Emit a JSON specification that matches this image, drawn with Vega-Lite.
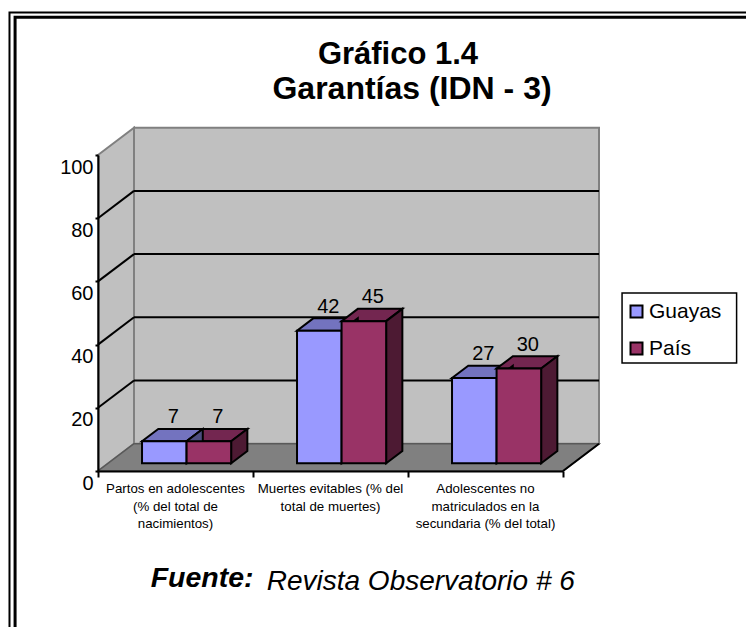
{
"$schema":"https://vega.github.io/schema/vega-lite/v6.json",
"width":465,"height":316,
"autosize":{"type":"none"},
"padding":{"left":98,"top":155,"right":183,"bottom":156},
"background":"white",
"title":{"text":"Gráfico 1.4","anchor":"middle","frame":"group","dx":67.5,"offset":-84,"baseline":"alphabetic","font":"Liberation Sans","fontSize":31,"fontWeight":"bold","color":"black"},
"config":{"view":{"stroke":null},"font":"Liberation Sans"},
"datasets":{
"barras":[
{"categoria":"Partos en adolescentes","orden":0,"serie":"Guayas","valor":7},
{"categoria":"Partos en adolescentes","orden":0,"serie":"País","valor":7},
{"categoria":"Muertes evitables","orden":1,"serie":"Guayas","valor":42},
{"categoria":"Muertes evitables","orden":1,"serie":"País","valor":45},
{"categoria":"Adolescentes no matriculados","orden":2,"serie":"Guayas","valor":27},
{"categoria":"Adolescentes no matriculados","orden":2,"serie":"País","valor":30}],
"niveles":[{"nivel":20},{"nivel":40},{"nivel":60},{"nivel":80}],
"profundidad":[{"z":0},{"z":1}],
"etiquetas":[
{"orden":0,"texto":"Partos en adolescentes\n(% del total de\nnacimientos)"},
{"orden":1,"texto":"Muertes evitables (% del\ntotal de muertes)"},
{"orden":2,"texto":"Adolescentes no\nmatriculados en la\nsecundaria (% del total)"}]
},
"layer":[
{"data":{"values":[{}]},"mark":{"type":"rect","fill":null,"stroke":"black","strokeWidth":2},
 "encoding":{"x":{"datum":-0.571,"type":"quantitative","scale":{"domain":[0,3],"nice":false,"zero":false},"axis":{"values":[0,1,2,3],"labels":false,"title":null,"grid":false,"domainColor":"black","domainWidth":2,"tickColor":"black","tickWidth":2,"tickSize":6,"zindex":1}},
  "x2":{"datum":4.4},
  "y":{"datum":145.1,"type":"quantitative","scale":{"domain":[0,100],"nice":false,"zero":false},"axis":{"values":[0,20,40,60,80,100],"title":null,"grid":false,"domainColor":"black","domainWidth":2,"tickColor":"black","tickWidth":2,"tickSize":3,"labelFont":"Liberation Sans","labelFontSize":20,"labelColor":"black","labelPadding":2,"labelOffset":12,"zindex":1}},
  "y2":{"datum":-60}}},
{"data":{"values":[{}]},"mark":{"type":"rect","fill":null,"stroke":"black","strokeWidth":3},
 "encoding":{"x":{"datum":-0.535,"type":"quantitative"},"x2":{"datum":4.4},"y":{"datum":143.6,"type":"quantitative"},"y2":{"datum":-60}}},
{"data":{"values":[{}]},"mark":{"type":"text","font":"Liberation Sans","fontSize":32,"fontWeight":"bold","align":"center","baseline":"alphabetic","color":"black"},
 "encoding":{"x":{"datum":2.026,"type":"quantitative"},"y":{"datum":117.6,"type":"quantitative"},"text":{"value":"Garantías (IDN - 3)"}}},
{"data":{"name":"profundidad"},
 "transform":[{"calculate":"0.2323*datum.z","as":"px"},{"calculate":"8.64*datum.z","as":"y0"},{"calculate":"100+8.64*datum.z","as":"y1"}],
 "mark":{"type":"area","fill":"#C0C0C0","stroke":"#808080","strokeWidth":2},
 "encoding":{"x":{"field":"px","type":"quantitative"},"y":{"field":"y1","type":"quantitative","stack":null},"y2":{"field":"y0"}}},
{"data":{"values":[{}]},"mark":{"type":"rect","fill":"#C0C0C0","stroke":"#808080","strokeWidth":2},
 "encoding":{"x":{"datum":0.2323,"type":"quantitative"},"x2":{"datum":3.2323},"y":{"datum":8.64,"type":"quantitative"},"y2":{"datum":108.64}}},
{"data":{"name":"profundidad"},
 "transform":[{"calculate":"0.2323*datum.z","as":"x0"},{"calculate":"3+0.2323*datum.z","as":"x1"},{"calculate":"8.64*datum.z","as":"yy"}],
 "mark":{"type":"area","orient":"horizontal","fill":"#808080","stroke":"#595959","strokeWidth":1.5},
 "encoding":{"y":{"field":"yy","type":"quantitative"},"x":{"field":"x0","type":"quantitative","stack":null},"x2":{"field":"x1"}}},
{"data":{"values":[{}]},"mark":{"type":"rule","stroke":"black","strokeWidth":2},
 "encoding":{"x":{"datum":3,"type":"quantitative"},"x2":{"datum":3.2323},"y":{"datum":0,"type":"quantitative"},"y2":{"datum":8.64}}},
{"data":{"name":"niveles"},"transform":[{"calculate":"datum.nivel+8.64","as":"atras"}],
 "mark":{"type":"rule","stroke":"black","strokeWidth":2},
 "encoding":{"x":{"datum":0,"type":"quantitative"},"x2":{"datum":0.2323},"y":{"field":"nivel","type":"quantitative"},"y2":{"field":"atras"}}},
{"data":{"name":"niveles"},"transform":[{"calculate":"datum.nivel+8.64","as":"atras"}],
 "mark":{"type":"rule","stroke":"black","strokeWidth":2},
 "encoding":{"x":{"datum":0.2323,"type":"quantitative"},"x2":{"datum":3.2323},"y":{"field":"atras","type":"quantitative"}}},
{"data":{"name":"barras"},
 "transform":[{"calculate":"datum.orden+0.219+(datum.serie==='País'?0.2875:0)","as":"u0"},{"calculate":"datum.u0+0.2875","as":"u1"},{"calculate":"datum.categoria+datum.serie","as":"clave"},
  {"calculate":"0.28","as":"z0"},{"calculate":"0.73","as":"z1"},{"fold":["z0","z1"],"as":["cara","z"]},
  {"calculate":"datum.u0+0.2323*datum.z","as":"xa"},{"calculate":"datum.u1+0.2323*datum.z","as":"xb"},{"calculate":"datum.valor+8.64*datum.z","as":"yt"}],
 "mark":{"type":"area","orient":"horizontal","stroke":"black","strokeWidth":2},
 "encoding":{"y":{"field":"yt","type":"quantitative"},"x":{"field":"xa","type":"quantitative","stack":null},"x2":{"field":"xb"},"detail":{"field":"clave"},
  "fill":{"condition":{"test":"datum.serie==='Guayas'","value":"#7373BF"},"value":"#732650"}}},
{"data":{"name":"barras"},
 "transform":[{"calculate":"datum.orden+0.219+(datum.serie==='País'?0.2875:0)","as":"u0"},{"calculate":"datum.u0+0.2875","as":"u1"},{"calculate":"datum.categoria+datum.serie","as":"clave"},
  {"calculate":"0.28","as":"z0"},{"calculate":"0.73","as":"z1"},{"fold":["z0","z1"],"as":["cara","z"]},
  {"calculate":"datum.u1+0.2323*datum.z","as":"xs"},{"calculate":"datum.valor+8.64*datum.z","as":"yt"},{"calculate":"8.64*datum.z","as":"yb"}],
 "mark":{"type":"area","stroke":"black","strokeWidth":2},
 "encoding":{"x":{"field":"xs","type":"quantitative"},"y":{"field":"yt","type":"quantitative","stack":null},"y2":{"field":"yb"},"detail":{"field":"clave"},
  "fill":{"condition":{"test":"datum.serie==='Guayas'","value":"#4D4D80"},"value":"#4D1A33"}}},
{"data":{"name":"barras"},
 "transform":[{"calculate":"datum.orden+0.284+(datum.serie==='País'?0.2875:0)","as":"u0"},{"calculate":"datum.u0+0.2875","as":"u1"},{"calculate":"datum.valor+2.42","as":"yt"},{"calculate":"2.42","as":"yb"}],
 "mark":{"type":"rect","stroke":"black","strokeWidth":2},
 "encoding":{"x":{"field":"u0","type":"quantitative"},"x2":{"field":"u1"},"y":{"field":"yt","type":"quantitative"},"y2":{"field":"yb"},
  "fill":{"field":"serie","type":"nominal","scale":{"domain":["Guayas","País"],"range":["#9999FF","#993366"]},
   "legend":{"orient":"none","legendX":528,"legendY":146,"title":null,"symbolType":"square","symbolSize":144,"symbolStrokeColor":"black","symbolStrokeWidth":2,"labelFont":"Liberation Sans","labelFontSize":21,"labelColor":"black","labelOffset":2,"rowPadding":15}}}},
{"data":{"name":"barras"},
 "transform":[{"calculate":"datum.orden+0.284+(datum.serie==='País'?0.2875:0)+0.14375","as":"uc"},{"calculate":"datum.valor+2.42","as":"yt"}],
 "mark":{"type":"text","font":"Liberation Sans","fontSize":20,"color":"black","dx":9,"dy":-24,"baseline":"middle"},
 "encoding":{"x":{"field":"uc","type":"quantitative"},"y":{"field":"yt","type":"quantitative"},"text":{"field":"valor","type":"quantitative"}}},
{"data":{"name":"etiquetas"},
 "transform":[{"calculate":"datum.orden+0.5","as":"uc"},{"calculate":"-7.1","as":"vy"}],
 "mark":{"type":"text","font":"Liberation Sans","fontSize":13.3,"color":"black","lineBreak":"\n","lineHeight":17.5,"baseline":"alphabetic","align":"center"},
 "encoding":{"x":{"field":"uc","type":"quantitative"},"y":{"field":"vy","type":"quantitative"},"text":{"field":"texto"}}},
{"data":{"values":[{}]},"mark":{"type":"rect","fill":null,"stroke":"black","strokeWidth":1.5},
 "encoding":{"x":{"datum":3.381,"type":"quantitative"},"x2":{"datum":4.12},"y":{"datum":56.3,"type":"quantitative"},"y2":{"datum":34.2}}},
{"data":{"values":[{}]},"mark":{"type":"text","font":"Liberation Sans","fontSize":28.5,"fontWeight":"bold","fontStyle":"italic","align":"left","baseline":"alphabetic","color":"black"},
 "encoding":{"x":{"datum":0.34,"type":"quantitative"},"y":{"datum":-36.6,"type":"quantitative"},"text":{"value":"Fuente:"}}},
{"data":{"values":[{}]},"mark":{"type":"text","font":"Liberation Sans","fontSize":28,"fontStyle":"italic","align":"left","baseline":"alphabetic","color":"black"},
 "encoding":{"x":{"datum":1.0884,"type":"quantitative"},"y":{"datum":-37.66,"type":"quantitative"},"text":{"value":"Revista Observatorio # 6"}}}
]
}
